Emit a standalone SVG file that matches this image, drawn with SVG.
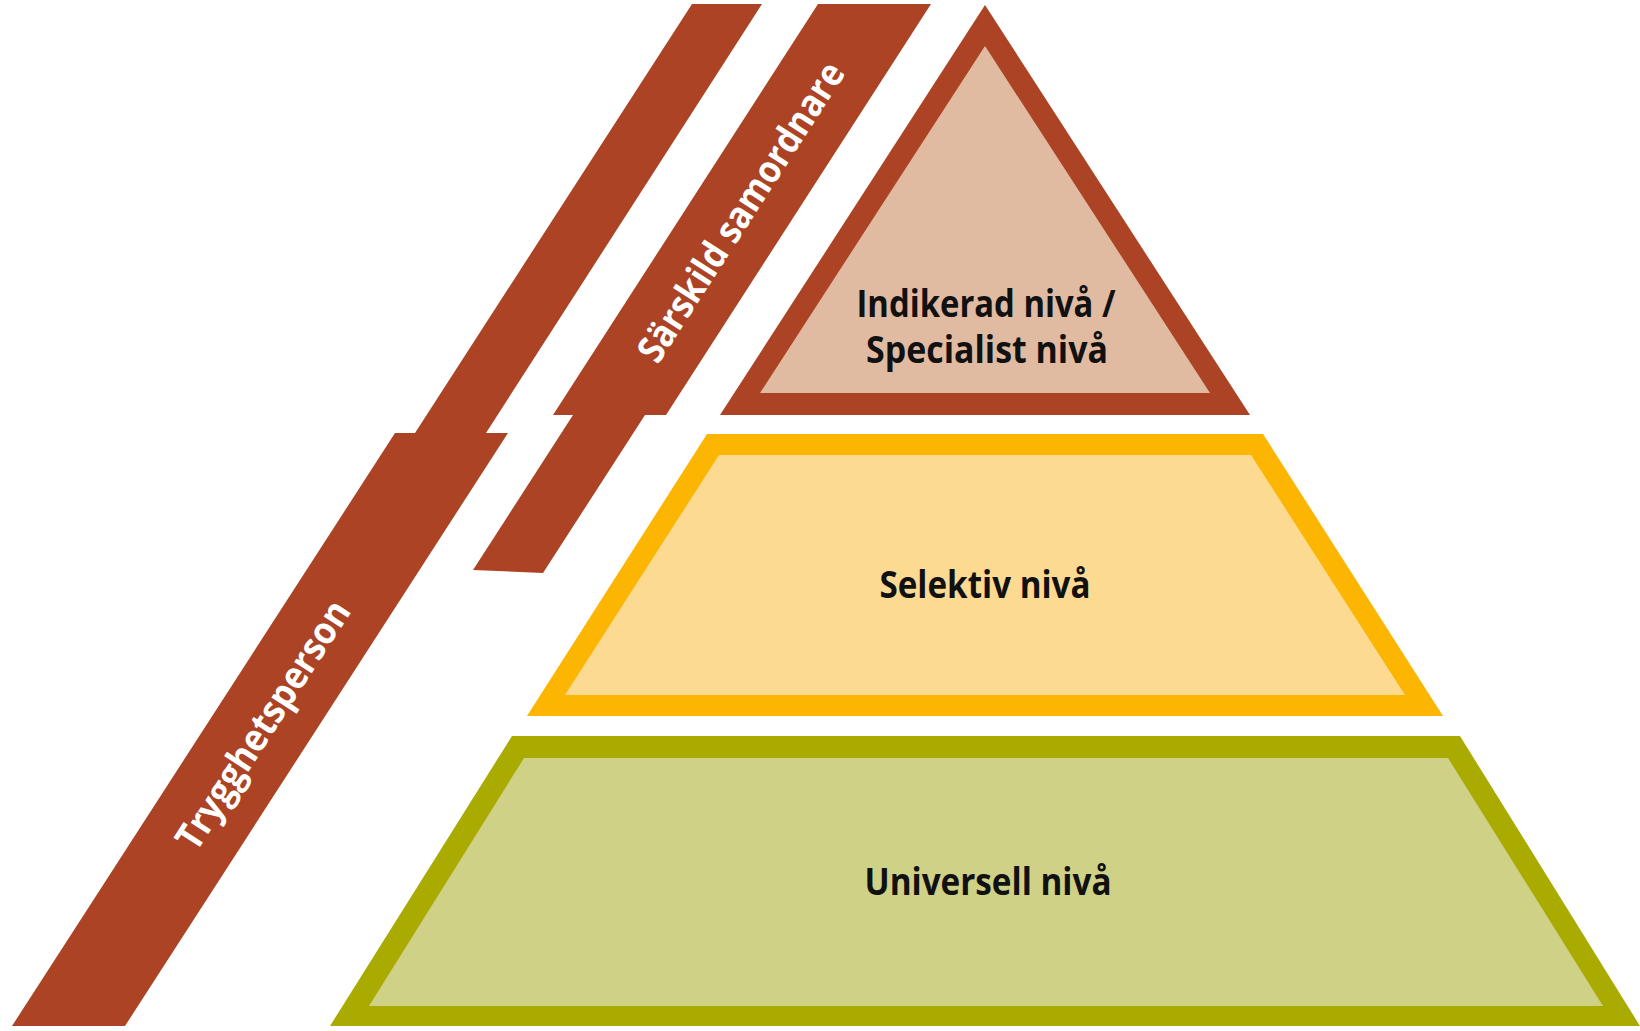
<svg xmlns="http://www.w3.org/2000/svg" width="1640" height="1031" viewBox="0 0 1640 1031">
  <style>
    .strip { fill: #AC4324; }
    .striptxt { font-family: "Open Sans", "Noto Sans", "DejaVu Sans", sans-serif; font-weight: bold; font-size: 38px; fill: #FFFFFF; text-anchor: middle; }
    .lvl { font-family: "Open Sans", "Noto Sans", "DejaVu Sans", sans-serif; font-weight: bold; font-size: 37px; fill: #111111; text-anchor: middle; }
    .tri-o { fill: #AC4324; }
    .tri-i { fill: #E1BAA2; }
    .mid-o { fill: #FCB500; }
    .mid-i { fill: #FDDA91; }
    .bot-o { fill: #A9AB00; }
    .bot-i { fill: #CFD186; }
  </style>
  <rect x="0" y="0" width="1640" height="1031" fill="#FFFFFF"/>

  <g id="trygghetsperson">
    <polygon class="strip" points="692,4 762,4 486,433 508,433 125,1026 12,1026 395,433 415,433"/>
    <text class="striptxt" transform="translate(263,725) rotate(-57.2)" y="13" textLength="288" lengthAdjust="spacingAndGlyphs">Trygghetsperson</text>
  </g>

  <g id="sarskild-samordnare">
    <polygon class="strip" points="818,4 931,4 666,415 645,415 543,573 473,570 573,415 553,415"/>
    <text class="striptxt" transform="translate(741,212) rotate(-57.2)" y="13" textLength="348" lengthAdjust="spacingAndGlyphs">Särskild samordnare</text>
  </g>

  <g id="indikerad-niva">
    <polygon class="tri-o" points="985,5 1250,415 720,415"/>
    <polygon class="tri-i" points="985,46 1210,393 760,393"/>
    <text class="lvl" x="986" y="317" textLength="259" lengthAdjust="spacingAndGlyphs">Indikerad nivå /</text>
    <text class="lvl" x="987" y="363" textLength="242" lengthAdjust="spacingAndGlyphs">Specialist nivå</text>
  </g>

  <g id="selektiv-niva">
    <polygon class="mid-o" points="707,434 1263,434 1443,716 527,716"/>
    <polygon class="mid-i" points="719,455 1251,455 1405,695 565,695"/>
    <text class="lvl" x="985" y="598" textLength="211" lengthAdjust="spacingAndGlyphs">Selektiv nivå</text>
  </g>

  <g id="universell-niva">
    <polygon class="bot-o" points="512,736 1460,736 1640,1026 330,1026"/>
    <polygon class="bot-i" points="524,758 1448,758 1603,1006 369,1006"/>
    <text class="lvl" x="988" y="895" textLength="247" lengthAdjust="spacingAndGlyphs">Universell nivå</text>
  </g>

  <g id="connectors"></g>
</svg>
